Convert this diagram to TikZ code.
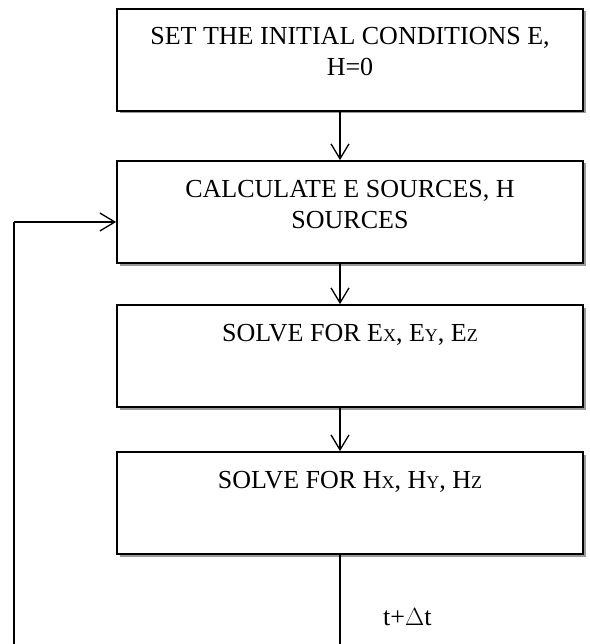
\documentclass[tikz,border=0pt]{standalone}
\usepackage{fontspec}
\setmainfont{Liberation Serif}
\usetikzlibrary{arrows.meta,shadows}
\newcommand{\boxtxt}[1]{\parbox[c][102pt][t]{460pt}{\centering\rule{0pt}{36pt}#1}}
\newcommand{\sm}[1]{{\fontsize{18}{20}\selectfont #1}}
\tikzset{
  flowbox/.style={draw=black, line width=1.8pt, fill=white, inner sep=0pt,
    minimum width=466pt, minimum height=102pt, align=center,
    font=\fontsize{26}{31}\selectfont,
    drop shadow={shadow xshift=2.5pt, shadow yshift=-2.5pt, fill=gray!80, opacity=1}},
  conn/.style={draw=black, line width=1.3pt},
  arr/.style={conn, -{Straight Barb[length=15pt,width=18pt,line width=1.3pt]}},
  lbl/.style={font=\fontsize{26}{31}\selectfont, inner sep=0pt}
}
\begin{document}
\begin{tikzpicture}[x=1pt,y=-1pt]
\useasboundingbox (0,0) rectangle (589,644);
\clip (0,0) rectangle (589,644);
\fill[white] (0,0) rectangle (589,644);
\node[flowbox, minimum height=100pt] (b1) at (350,60) {\boxtxt{SET THE INITIAL CONDITIONS E,\\H=0}};
\node[flowbox] (b2) at (350,212) {\boxtxt{CALCULATE E SOURCES, H\\SOURCES}};
\node[flowbox] (b3) at (350,356) {\boxtxt{SOLVE FOR E\sm{X}, E\sm{Y}, E\sm{Z}}};
\node[flowbox] (b4) at (350,503) {\boxtxt{SOLVE FOR H\sm{X}, H\sm{Y}, H\sm{Z}}};
\coordinate (ax) at (340,0);
\coordinate (c1) at (340,660);
\coordinate (c2) at (14,660);
\coordinate (c3) at (14,222);
\draw[arr] (b1.south -| ax) -- (b2.north -| ax);
\draw[arr] (b2.south -| ax) -- (b3.north -| ax);
\draw[arr] (b3.south -| ax) -- (b4.north -| ax);
\draw[conn] (b4.south -| ax) -- (c1) -- (c2) -- (c3);
\draw[arr] (c3) -- (c3 -| b2.west);
\node[lbl, anchor=base west] (dt) at (383,625) {t+$\Delta$t};
\end{tikzpicture}
\end{document}
